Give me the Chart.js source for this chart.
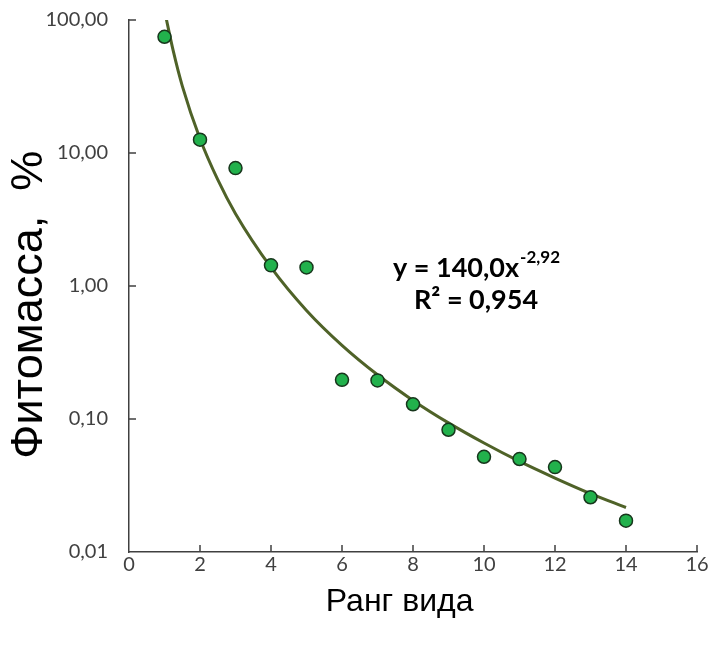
<!DOCTYPE html>
<html>
<head>
<meta charset="utf-8">
<script src="https://cdn.jsdelivr.net/npm/chart.js@4.4.1/dist/chart.umd.min.js"></script>
<style>
  html, body { margin: 0; background: #fff; }
</style>
</head>
<body>
<canvas id="chart" width="713" height="652"></canvas>
<script>
// Species rank and biomass share (%)
const rankValues = [1, 2, 3, 4, 5, 6, 7, 8, 9, 10, 11, 12, 13, 14];
const biomassValues = [74.8, 12.6, 7.7, 1.43, 1.38, 0.197, 0.195, 0.129, 0.083, 0.052, 0.050, 0.0435, 0.0258, 0.0172];

// Trend line
const trendRanks = [1, 1.25, 1.5, 2, 2.5, 3, 4, 5, 6, 7, 8, 9, 10, 11, 12, 13, 14];
const trendValues = [118, 58, 32, 12.8, 6.3, 3.5, 1.38, 0.655, 0.358, 0.215, 0.138, 0.0935, 0.066, 0.048, 0.036, 0.0275, 0.0216];

const xTicks = [0, 2, 4, 6, 8, 10, 12, 14, 16];
const yTicks = [0.01, 0.1, 1, 10, 100];

const equationMain = "y = 140,0x";
const equationPower = "-2,92";
const r2Text = "R² = 0,954";

const axisColor = "#404040";
const tickFont = { family: "Lato, 'Open Sans', sans-serif", size: 20 };
const labelFont = "Lato, 'Open Sans', sans-serif";

// Excel-style tick marks pointing into the plot
const innerTicks = {
  id: "innerTicks",
  afterDraw(chart) {
    const { ctx, chartArea, scales } = chart;
    ctx.save();
    ctx.strokeStyle = axisColor;
    ctx.lineWidth = 1.5;
    ctx.beginPath();
    xTicks.slice(1).forEach((v) => {
      const px = scales.x.getPixelForValue(v);
      ctx.moveTo(px, chartArea.bottom);
      ctx.lineTo(px, chartArea.bottom - 7);
    });
    yTicks.slice(1).forEach((v) => {
      const py = scales.y.getPixelForValue(v);
      ctx.moveTo(chartArea.left, py);
      ctx.lineTo(chartArea.left + 7, py);
    });
    ctx.stroke();
    ctx.restore();
  },
};

// Fit equation text
const equationLabel = {
  id: "equationLabel",
  afterDraw(chart) {
    const { ctx } = chart;
    ctx.save();
    ctx.fillStyle = "#000";
    ctx.textBaseline = "alphabetic";
    ctx.font = "bold 27px " + labelFont;
    const mainW = ctx.measureText(equationMain).width;
    ctx.font = "bold 17px " + labelFont;
    const powW = ctx.measureText(equationPower).width;
    const cx = 476;
    const startX = cx - (mainW + powW) / 2;
    ctx.font = "bold 27px " + labelFont;
    ctx.fillText(equationMain, startX, 277);
    ctx.font = "bold 17px " + labelFont;
    ctx.fillText(equationPower, startX + mainW + 1, 263);
    ctx.font = "bold 27px " + labelFont;
    ctx.textAlign = "center";
    ctx.fillText(r2Text, cx, 309);
    ctx.restore();
  },
};

const ctx = document.getElementById("chart").getContext("2d");
new Chart(ctx, {
  type: "scatter",
  data: {
    datasets: [
      {
        label: "Trend",
        type: "line",
        data: trendRanks.map((x, i) => ({ x, y: trendValues[i] })),
        borderColor: "#4f6228",
        borderWidth: 3,
        pointRadius: 0,
        cubicInterpolationMode: "monotone",
        fill: false,
        order: 2,
      },
      {
        label: "Фитомасса",
        data: rankValues.map((x, i) => ({ x, y: biomassValues[i] })),
        backgroundColor: "#22b14c",
        borderColor: "#17361c",
        borderWidth: 1.5,
        pointRadius: 6.5,
        order: 1,
      },
    ],
  },
  options: {
    responsive: false,
    animation: false,
    layout: { padding: { top: 20, right: 16, left: 0, bottom: 0 } },
    plugins: {
      legend: { display: false },
      tooltip: { enabled: false },
    },
    scales: {
      x: {
        type: "linear",
        min: 0,
        max: 16,
        afterFit: (scale) => {
          scale.height = 100;
          scale.paddingLeft = 0;
          scale.paddingRight = 0;
        },
        afterBuildTicks: (scale) => { scale.ticks = xTicks.map((v) => ({ value: v })); },
        grid: { display: false, drawTicks: false },
        border: { display: true, color: axisColor, width: 1.5 },
        ticks: { color: "#404040", font: tickFont, padding: 1 },
        title: {
          display: true,
          text: "Ранг вида\u00a0\u00a0\u00a0",
          color: "#000",
          font: { family: "'Liberation Sans', sans-serif", size: 32 },
          padding: { top: 0, bottom: 31 },
        },
      },
      y: {
        type: "logarithmic",
        min: 0.01,
        max: 100,
        afterFit: (scale) => {
          scale.width = 129;
          scale.paddingTop = 0;
          scale.paddingBottom = 0;
        },
        afterBuildTicks: (scale) => { scale.ticks = yTicks.map((v) => ({ value: v })); },
        grid: { display: false, drawTicks: false },
        border: { display: true, color: axisColor, width: 1.5 },
        ticks: {
          color: "#404040",
          font: tickFont,
          padding: 21,
          callback: (v) => Number(v).toFixed(2).replace(".", ","),
        },
        title: {
          display: true,
          text: "Фитомасса,\u00a0\u00a0%\u00a0\u00a0\u00a0",
          color: "#000",
          font: { family: "'Liberation Sans', sans-serif", size: 45 },
          padding: { top: 3, bottom: 0 },
        },
      },
    },
  },
  plugins: [innerTicks, equationLabel],
});
</script>
</body>
</html>
